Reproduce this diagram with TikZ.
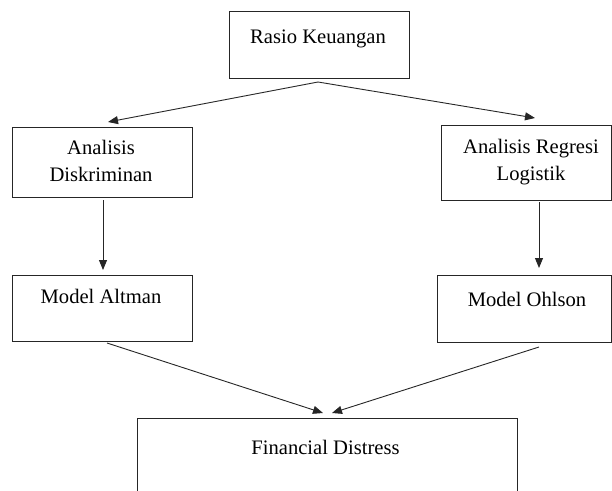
\documentclass[tikz,border=0pt]{standalone}
\usepackage{fontspec}
\setmainfont{Liberation Serif}
\usetikzlibrary{arrows.meta}
\begin{document}
\begin{tikzpicture}[x=1pt,y=-1pt,
  box/.style={draw=black!85, line width=0.9pt, rectangle, inner sep=0pt, anchor=north west},
  lbl/.style={inner sep=0pt, font=\fontsize{20.6}{27}\selectfont, align=center},
  arr/.style={draw=black!85, line width=0.9pt, -{Triangle[length=10pt,width=8pt]}}]
\clip (0,0) rectangle (612,490);
% boxes
\node[box, minimum width=180pt, minimum height=67pt] (rasio) at (229,11) {};
\node[box, minimum width=180pt, minimum height=70pt] (diskr) at (12,127) {};
\node[box, minimum width=170pt, minimum height=75pt] (regresi) at (441,125) {};
\node[box, minimum width=180pt, minimum height=66pt] (altman) at (12,275) {};
\node[box, minimum width=174pt, minimum height=67pt] (ohlson) at (437,275) {};
\node[box, minimum width=380pt, minimum height=100pt] (fin) at (137,418) {};
% labels
\node[lbl, anchor=base] (trasio) at (318,43) {Rasio Keuangan};
\node[lbl] (tdiskr) at (101,161) {Analisis\\Diskriminan};
\node[lbl] (tregresi) at (531,162) {Analisis Regresi\\Logistik};
\node[lbl, anchor=base] (taltman) at (101,303) {Model Altman};
\node[lbl, anchor=base] (tohlson) at (527,306) {Model Ohlson};
\node[lbl, anchor=base] (tfin) at (325.5,454) {Financial Distress};
% connector points
\coordinate (apex) at (318,82);
\coordinate (tipL) at (108,122);
\coordinate (tipR) at (535,118);
\coordinate (dL1) at (103,200);
\coordinate (dL2) at (103,270);
\coordinate (dR1) at (539,202);
\coordinate (dR2) at (539,268);
\coordinate (bL1) at (107,343);
\coordinate (bL2) at (323,413);
\coordinate (bR1) at (539,347);
\coordinate (bR2) at (332,413);
% connectors
\draw[arr] (apex) -- (tipL);
\draw[arr] (apex) -- (tipR);
\draw[arr] (dL1) -- (dL2);
\draw[arr] (dR1) -- (dR2);
\draw[arr] (bL1) -- (bL2);
\draw[arr] (bR1) -- (bR2);
\end{tikzpicture}
\end{document}
